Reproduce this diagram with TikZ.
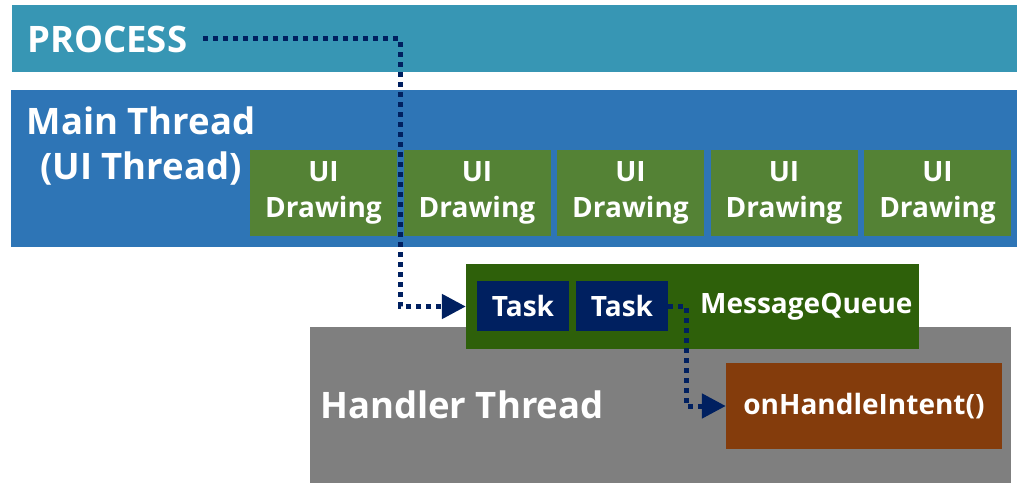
\documentclass[tikz,border=0pt]{standalone}
\usepackage{fontspec}
\setmainfont{Open Sans}
\usetikzlibrary{arrows.meta}

\definecolor{procteal}{HTML}{3796B4}
\definecolor{mainblue}{HTML}{2E75B6}
\definecolor{drawgreen}{HTML}{548235}
\definecolor{queuegreen}{HTML}{2E600A}
\definecolor{tasknavy}{HTML}{002060}
\definecolor{handlergray}{HTML}{7F7F7F}
\definecolor{intentbrown}{HTML}{843C0C}

\begin{document}
\begin{tikzpicture}[x=1pt,y=-1pt,
  box/.style={fill=#1, inner sep=0pt, text=white, font=\bfseries},
  big/.style={inner sep=0pt, text=white, font=\bfseries\fontsize{36.5}{45}\selectfont},
  small/.style={font=\bfseries\fontsize{28}{36}\selectfont, align=center},
  conn/.style={tasknavy, line width=5pt, dash pattern=on 5pt off 5pt,
    -{Triangle[length=24pt,width=24pt]}}]
  \useasboundingbox (0,0) rectangle (1030,497);
  % process and main thread bars
  \node[box=procteal, minimum width=1005, minimum height=67] (process) at (514.5,38.5) {};
  \node[big, anchor=west] (proctext) at (27,39) {PROCESS};
  \node[box=mainblue, minimum width=1006, minimum height=157] (mainbar) at (514,168.5) {};
  \node[big, align=center] (maintext) at (141,146) {Main Thread\\(UI Thread)};
  \foreach \i in {0,...,4}
    \node[box=drawgreen, small, minimum width=147, minimum height=85] (draw\i)
      at (323.5+153.5*\i,193) {UI\\Drawing};
  % handler thread
  \node[box=handlergray, minimum width=701, minimum height=156] (handler) at (660.5,405) {};
  \node[big, anchor=west] (handlertext) at (320,405) {Handler Thread};
  \node[box=queuegreen, minimum width=453, minimum height=85] (mq) at (692.5,306.5) {};
  \node[small, text=white, inner sep=0pt, anchor=west] (mqtext) at (700,307) {MessageQueue};
  \node[box=tasknavy, small, minimum width=92, minimum height=50] (task1) at (523,306) {Task};
  \node[box=tasknavy, small, minimum width=92, minimum height=50] (task2) at (622,306) {Task};
  \node[box=intentbrown, small, minimum width=276, minimum height=86] (intent) at (864,406) {onHandleIntent()};
  % connectors
  \coordinate (turnA) at (400,0);
  \coordinate (turnB) at (686,0);
  \draw[conn] ([xshift=16pt]proctext.east) -- (proctext.east -| turnA) |- (mq.west);
  \draw[conn] (task2.east) -- (task2.east -| turnB) |- (intent.west);
\end{tikzpicture}
\end{document}
